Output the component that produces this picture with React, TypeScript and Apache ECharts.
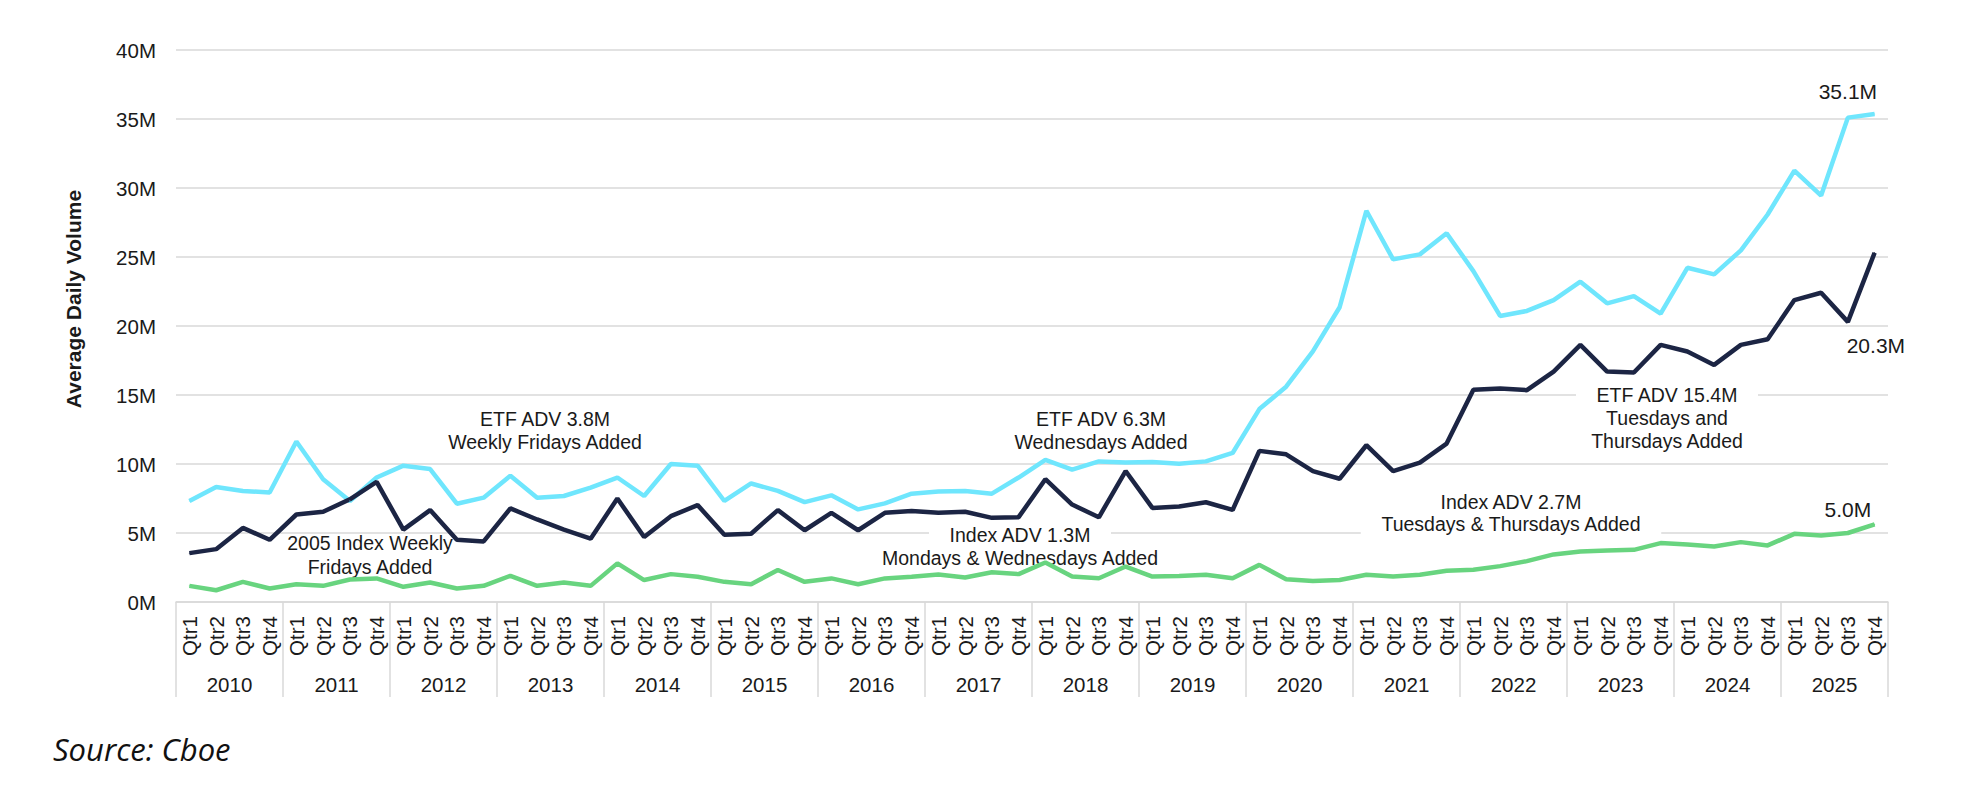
import { useEffect, useRef } from 'react';
import * as echarts from 'echarts';

const YEARS = ['2010', '2011', '2012', '2013', '2014', '2015', '2016', '2017', '2018', '2019', '2020', '2021', '2022', '2023', '2024', '2025'];
const QUARTERS = ['Qtr1', 'Qtr2', 'Qtr3', 'Qtr4'];
const CATEGORIES = YEARS.flatMap((y) => QUARTERS.map((q) => `${y} ${q}`));

// Average daily volume, millions of contracts
const ETF_ADV = [
  7.32, 8.34, 8.05, 7.93, 11.63, 8.9, 7.32, 9.02, 9.88, 9.63, 7.12, 7.56, 9.15, 7.56, 7.68, 8.29,
  9.02, 7.68, 10.0, 9.88, 7.32, 8.59, 8.05, 7.24, 7.73, 6.71, 7.15, 7.85, 8.0, 8.05, 7.85, 9.02,
  10.3, 9.59, 10.19, 10.1, 10.15, 10.02, 10.19, 10.8, 13.98, 15.6, 18.16, 21.36, 28.35, 24.83, 25.19, 26.72,
  23.98, 20.73, 21.09, 21.88, 23.21, 21.64, 22.17, 20.9, 24.22, 23.74, 25.48, 28.08, 31.26, 29.45, 35.1, 35.36,
];
const TOTAL_ADV = [
  3.54, 3.83, 5.37, 4.51, 6.34, 6.54, 7.44, 8.71, 5.24, 6.66, 4.51, 4.39, 6.78, 5.98, 5.24, 4.59,
  7.5, 4.71, 6.22, 7.02, 4.88, 4.95, 6.66, 5.2, 6.46, 5.2, 6.46, 6.59, 6.46, 6.54, 6.1, 6.15,
  8.9, 7.06, 6.14, 9.49, 6.82, 6.92, 7.23, 6.67, 10.95, 10.7, 9.49, 8.93, 11.36, 9.49, 10.1, 11.48,
  15.38, 15.47, 15.35, 16.7, 18.63, 16.7, 16.63, 18.63, 18.15, 17.18, 18.63, 19.04, 21.88, 22.41, 20.3, 25.31,
];
const INDEX_ADV = [
  1.17, 0.85, 1.46, 0.98, 1.29, 1.17, 1.63, 1.71, 1.1, 1.41, 0.98, 1.17, 1.9, 1.17, 1.41, 1.17,
  2.8, 1.59, 2.02, 1.83, 1.46, 1.29, 2.32, 1.46, 1.71, 1.29, 1.71, 1.83, 2.0, 1.78, 2.15, 2.02,
  2.86, 1.84, 1.72, 2.57, 1.84, 1.89, 1.97, 1.72, 2.69, 1.65, 1.53, 1.6, 1.97, 1.84, 1.97, 2.26,
  2.34, 2.6, 2.96, 3.45, 3.66, 3.74, 3.78, 4.27, 4.17, 4.02, 4.34, 4.1, 4.94, 4.82, 5.0, 5.62,
];
const LABEL_INDEX = 62; // 2025 Qtr3 values are labelled

const Y_MIN = 0;
const Y_MAX = 40;
const Y_STEP = 5;

const FONT = '"Liberation Sans", Arial, Helvetica, sans-serif';
const TEXT = '#1a1a1a';
const GRID_COLOR = '#d9d9d9';
const ETF_COLOR = '#6fe6fd';
const TOTAL_COLOR = '#1c2544';
const INDEX_COLOR = '#68d47f';

function labelled(values: number[], label: any) {
  return values.map((v, i) =>
    i === LABEL_INDEX
      ? {
          value: v,
          label: {
            show: true,
            formatter: (p: any) => `${Number(p.value).toFixed(1)}M`,
            fontSize: 21,
            fontFamily: FONT,
            color: TEXT,
            ...label,
          },
        }
      : v
  );
}

function note(text: string, x: number, y: number, bg = false) {
  return {
    type: 'text',
    x,
    y,
    z: 1,
    style: {
      text,
      fill: TEXT,
      fontSize: 19.5,
      fontFamily: FONT,
      align: 'center',
      verticalAlign: 'middle',
      ...(bg ? { backgroundColor: '#ffffff', padding: [1, 20] } : {}),
    },
  };
}

export default function App() {
  const ref = useRef<HTMLDivElement>(null);

  useEffect(() => {
    if (!ref.current) return;
    const chart = echarts.init(ref.current, undefined, { renderer: 'svg' });
    const lineSeries = (name: string, color: string, data: any[]) => ({
      name,
      type: 'line',
      xAxisIndex: 0,
      yAxisIndex: 0,
      data,
      symbol: 'circle',
      symbolSize: 1,
      showSymbol: true,
      showAllSymbol: true,
      lineStyle: { color, width: 4.5 },
      itemStyle: { color },
      z: 2,
    });
    chart.setOption({
      animation: false,
      backgroundColor: '#ffffff',
      grid: { left: 176, right: 84, top: 50, bottom: 204, containLabel: false, outerBoundsMode: 'none' },
      xAxis: [
        {
          type: 'category',
          data: CATEGORIES,
          boundaryGap: true,
          position: 'bottom',
          axisLine: { show: true, lineStyle: { color: GRID_COLOR, width: 1.5 } },
          axisTick: { show: false },
          splitLine: { show: false },
          axisLabel: {
            interval: 0,
            rotate: 90,
            margin: 14,
            fontSize: 20.5,
            fontFamily: FONT,
            color: TEXT,
            formatter: (v: string) => v.split(' ')[1],
          },
        },
        {
          type: 'category',
          data: YEARS,
          boundaryGap: true,
          position: 'bottom',
          gridIndex: 0,
          axisLine: { show: false },
          axisTick: { show: true, interval: 0, length: 95, lineStyle: { color: GRID_COLOR, width: 1.5 } },
          splitLine: { show: false },
          axisLabel: {
            interval: 0,
            margin: 72,
            fontSize: 20.5,
            fontFamily: FONT,
            color: TEXT,
          },
        },
      ],
      yAxis: {
        type: 'value',
        min: Y_MIN,
        max: Y_MAX,
        interval: Y_STEP,
        axisLine: { show: false },
        axisTick: { show: false },
        splitLine: { show: true, lineStyle: { color: GRID_COLOR, width: 1.5 } },
        axisLabel: {
          margin: 20,
          fontSize: 20.5,
          fontFamily: FONT,
          color: TEXT,
          formatter: (v: number) => `${v}M`,
        },
      },
      series: [
        lineSeries('ETF Options ADV', ETF_COLOR, labelled(ETF_ADV, { position: 'top', distance: 15 })),
        lineSeries('Total ADV', TOTAL_COLOR, labelled(TOTAL_ADV, { position: 'bottom', distance: 13, offset: [28, 0] })),
        lineSeries('Index Options ADV', INDEX_COLOR, labelled(INDEX_ADV, { position: 'top', distance: 13 })),
      ],
      graphic: [
        {
          type: 'text',
          x: 73,
          y: 299,
          rotation: Math.PI / 2,
          style: {
            text: 'Average Daily Volume',
            fill: TEXT,
            fontSize: 21,
            fontWeight: 'bold',
            fontFamily: FONT,
            align: 'center',
            verticalAlign: 'middle',
          },
        },
        note('ETF ADV 3.8M', 545, 419),
        note('Weekly Fridays Added', 545, 442),
        note('2005 Index Weekly', 370, 543),
        note('Fridays Added', 370, 567),
        note('ETF ADV 6.3M', 1101, 419),
        note('Wednesdays Added', 1101, 442),
        note('Index ADV 1.3M', 1020, 535, true),
        note('Mondays & Wednesdays Added', 1020, 558),
        note('ETF ADV 15.4M', 1667, 395, true),
        note('Tuesdays and', 1667, 418),
        note('Thursdays Added', 1667, 441),
        note('Index ADV 2.7M', 1511, 502),
        note('Tuesdays & Thursdays Added', 1511, 524, true),
        {
          type: 'text',
          x: 53,
          y: 749,
          style: {
            text: 'Source: Cboe',
            fill: '#111111',
            fontSize: 31,
            fontStyle: 'italic',
            fontFamily: '"Open Sans", "Noto Sans", sans-serif',
            align: 'left',
            verticalAlign: 'middle',
          },
        },
      ],
    });
    return () => chart.dispose();
  }, []);

  return (
    <div
      ref={ref}
      style={{ position: 'fixed', left: 0, top: 0, width: 1972, height: 806, background: '#fff' }}
    />
  );
}
